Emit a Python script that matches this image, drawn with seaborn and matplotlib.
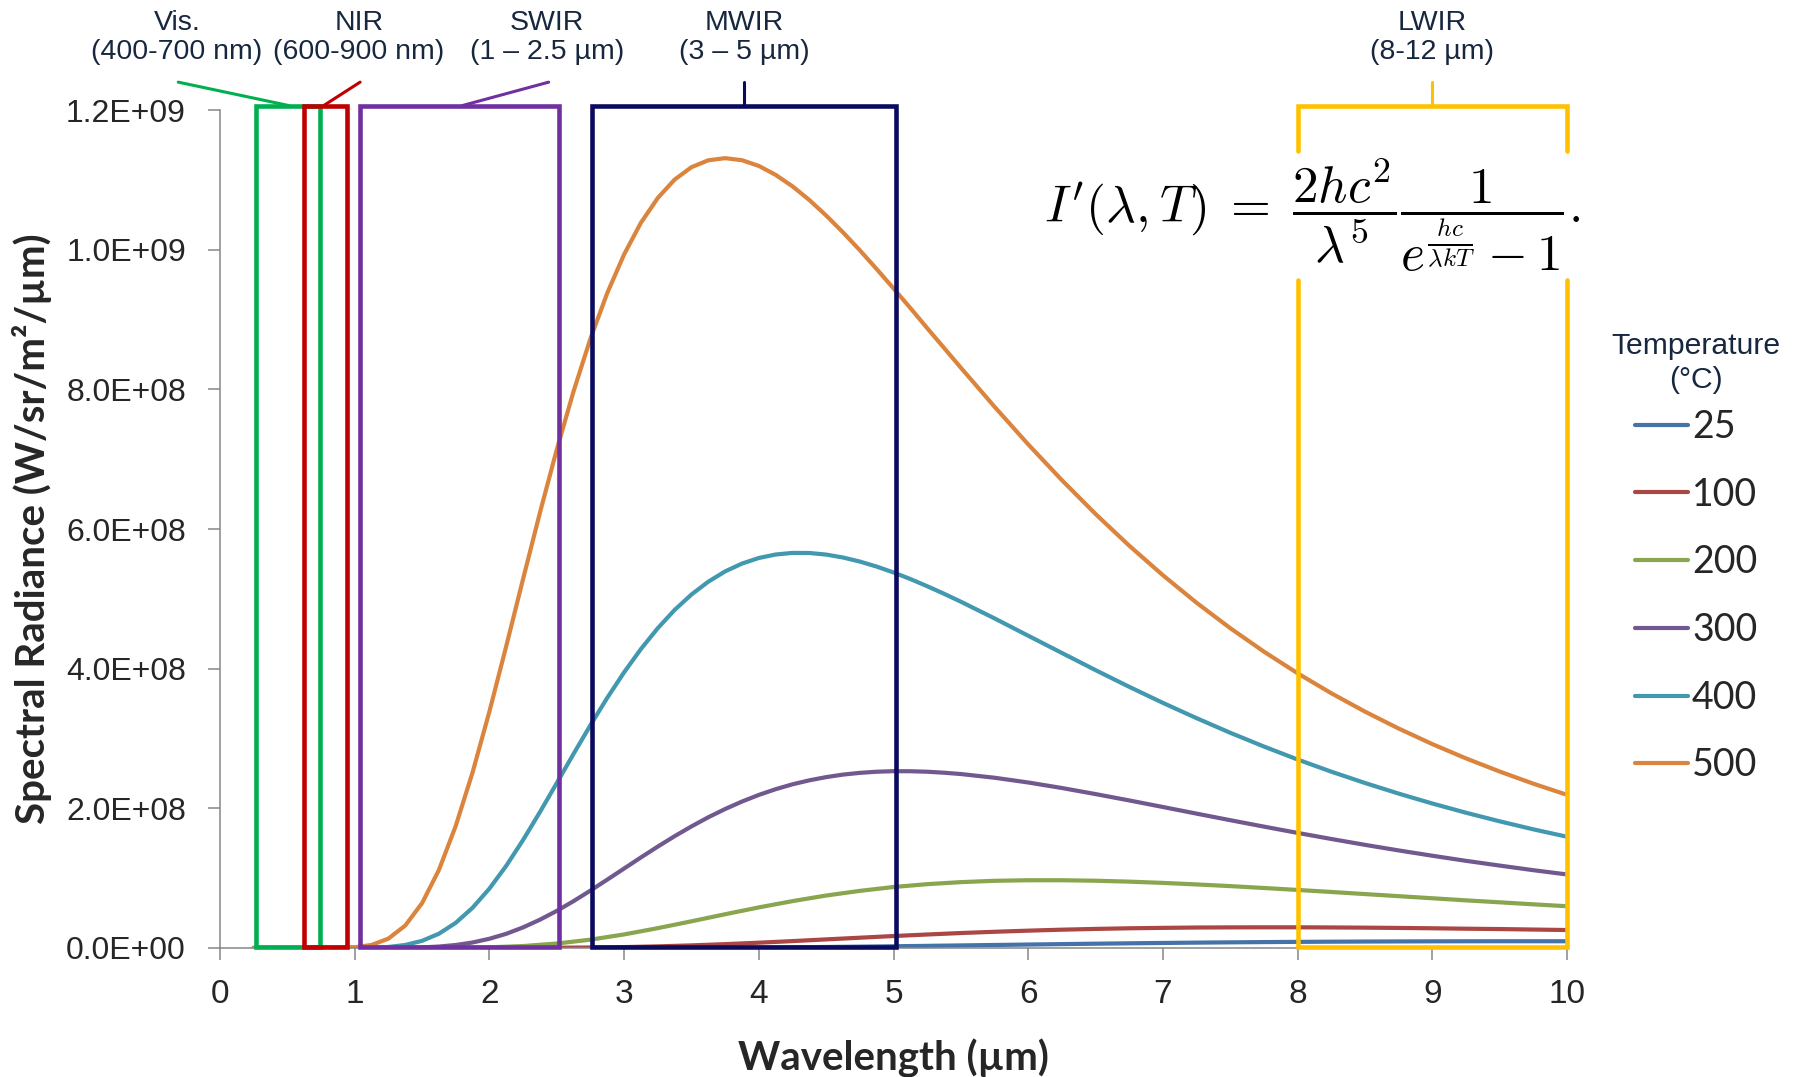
import numpy as np
import pandas as pd
import seaborn as sns
import matplotlib.pyplot as plt
from matplotlib.patches import Rectangle
from matplotlib.ticker import FuncFormatter

# wavelength (um) and spectral radiance (in 1e6 W/sr/m2/um)
wavelength = [0.25, 0.5, 0.75, 1.0, 1.25, 1.5, 1.75, 2.0, 2.25, 2.5,
              2.75, 3.0, 3.25, 3.5, 3.75, 4.0, 4.25, 4.5, 4.75, 5.0,
              5.25, 5.5, 5.75, 6.0, 6.25, 6.5, 6.75, 7.0, 7.25, 7.5,
              7.75, 8.0, 8.25, 8.5, 8.75, 9.0, 9.25, 9.5, 9.75, 10.0]
# denser readings for the three hot curves (steep rise and peak)
wavelength_fine = [0.25, 0.5, 0.75, 1.0,
                   1.125, 1.25, 1.375, 1.5, 1.625, 1.75, 1.875, 2.0,
                   2.125, 2.25, 2.375, 2.5, 2.625, 2.75, 2.875, 3.0,
                   3.125, 3.25, 3.375, 3.5, 3.625, 3.75, 3.875, 4.0,
                   4.125, 4.25, 4.375, 4.5, 4.625, 4.75, 4.875, 5.0,
                   5.125, 5.25, 5.375, 5.5,
                   5.75, 6.0, 6.25, 6.5, 6.75, 7.0, 7.25, 7.5, 7.75, 8.0,
                   8.25, 8.5, 8.75, 9.0, 9.25, 9.5, 9.75, 10.0]

rad_25 = [0, 0, 0, 0, 0, 0, 0, 0, 0, 0,
          0, 0.05, 0.12, 0.23, 0.41, 0.67, 1.01, 1.42, 1.91, 2.45,
          3.04, 3.66, 4.29, 4.92, 5.54, 6.13, 6.68, 7.19, 7.66, 8.07,
          8.43, 8.75, 9.01, 9.22, 9.39, 9.51, 9.59, 9.64, 9.65, 9.63]
rad_100 = [0, 0, 0, 0, 0, 0, 0, 0, 0.07, 0.24,
           0.62, 1.28, 2.31, 3.73, 5.50, 7.57, 9.86, 12.3, 14.7, 17.1,
           19.3, 21.4, 23.2, 24.8, 26.2, 27.3, 28.2, 28.8, 29.3, 29.5,
           29.6, 29.6, 29.4, 29.1, 28.7, 28.2, 27.6, 27.1, 26.4, 25.7]
rad_200 = [0, 0, 0, 0, 0, 0.02, 0.21, 0.93, 2.79, 6.36,
           11.9, 19.4, 28.4, 38.2, 48.3, 58.1, 67.1, 75.1, 81.8, 87.3,
           91.4, 94.3, 96.2, 97.0, 97.0, 96.3, 95.0, 93.2, 91.0, 88.6,
           85.9, 83.1, 80.2, 77.2, 74.2, 71.2, 68.2, 65.4, 62.5, 59.8]
rad_300 = [0, 0, 0, 0,
           0.01, 0.07, 0.29, 0.85, 2.05, 4.27, 7.87, 13.2,
           20.3, 29.5, 40.5, 53.1, 67.1, 82.2, 97.9, 113.8,
           129.7, 145.2, 160.1, 174.1, 187.2, 199.0, 209.7, 219.2,
           227.4, 234.4, 240.1, 244.7, 248.3, 250.8, 252.4, 253.2,
           253.1, 252.4, 251.0, 249.1,
           243.8, 237.0, 229.1, 220.4, 211.3, 201.9, 192.4, 183.0, 173.8, 164.8,
           156.1, 147.7, 139.7, 132.1, 124.8, 118.0, 111.4, 105.3]
rad_400 = [0, 0, 0, 0.06,
           0.37, 1.46, 4.30, 10.2, 20.4, 36.0, 57.6, 85.0,
           117.7, 154.7, 194.6, 236.2, 278.1, 319.1, 358.3, 394.8,
           428.2, 458.0, 484.1, 506.2, 524.6, 539.3, 550.5, 558.5,
           563.5, 565.8, 565.7, 563.4, 559.2, 553.4, 546.2, 537.8,
           528.4, 518.1, 507.3, 495.9,
           472.0, 447.2, 422.5, 397.9, 374.0, 351.0, 329.1, 308.2, 288.5, 269.9,
           252.5, 236.3, 221.1, 206.9, 193.7, 181.4, 169.9, 159.3]
rad_500 = [0, 0, 0.01, 0.99,
           4.3, 13.4, 32.1, 64.2, 111.7, 174.8, 251.4, 338.6,
           432.3, 528.5, 623.3, 713.8, 797.4, 872.7, 938.0, 993.3,
           1038.7, 1074.1, 1100.4, 1118.2, 1128.1, 1131.1, 1128.2, 1120.0,
           1107.2, 1090.8, 1071.2, 1049.0, 1024.9, 999.2, 972.3, 944.6,
           916.5, 887.7, 859.4, 831.0,
           775.1, 721.2, 670.0, 621.5, 576.1, 533.8, 494.4, 458.0, 424.4, 393.4,
           364.8, 338.5, 314.3, 292.0, 271.5, 252.7, 235.3, 219.3]

temps = ['25', '100', '200', '300', '400', '500']
curve_colors = ['#4572A7', '#AA4643', '#89A54E', '#71588F', '#4198AF', '#DB843D']

# spectral bands drawn as boxes
band_names = ['Vis.\n(400-700 nm)', 'NIR\n(600-900 nm)', 'SWIR\n(1 – 2.5 µm)',
              'MWIR\n(3 – 5 µm)', 'LWIR\n(8-12 µm)']
band_lo = [0.27, 0.62, 1.04, 2.76, 8.0]
band_hi = [0.74, 0.94, 2.52, 5.02, 10.0]
band_colors = ['#00B050', '#C00000', '#7030A0', '#0B0B5E', '#FFC000']
label_x = [-0.32, 1.03, 2.43, 3.89, 9.0]
lead_start = [-0.31, 1.04, 2.44, 3.89, 9.0]
lead_end = [0.51, 0.77, 1.80, 3.89, 9.0]
box_bottom, box_top, lead_top = 2e6, 1.2065e9, 1.240e9
lwir_gap = (9.56e8, 1.141e9)

yticks = [0, 2e8, 4e8, 6e8, 8e8, 1e9, 1.2e9]
xticks = list(range(0, 11))

sns.set_style('ticks')
plt.rcParams['font.family'] = ['Liberation Sans', 'DejaVu Sans']
plt.rcParams['mathtext.fontset'] = 'cm'

series = [(wavelength, rad_25), (wavelength, rad_100), (wavelength, rad_200),
          (wavelength_fine, rad_300), (wavelength_fine, rad_400), (wavelength_fine, rad_500)]
long = pd.concat([pd.DataFrame({'Wavelength': x, 'Radiance': y, 'Temperature': t})
                  for t, (x, y) in zip(temps, series)], ignore_index=True)
long['Radiance'] = long['Radiance'] * 1e6

fig = plt.figure(figsize=(17.96, 10.77), dpi=100)
ax = fig.add_axes([0.1225, 0.1198, 0.75, 0.778])

sns.lineplot(data=long, x='Wavelength', y='Radiance', hue='Temperature', hue_order=temps,
             palette=dict(zip(temps, curve_colors)), linewidth=3, legend=False, ax=ax)
curve_lines = ax.lines[:6]

# boxes for the bands (LWIR drawn separately, it has a gap for the formula)
for lo, hi, col in zip(band_lo[:4], band_hi[:4], band_colors[:4]):
    ax.add_patch(Rectangle((lo, box_bottom), hi - lo, box_top - box_bottom, fill=False,
                           ec=col, lw=3.3, clip_on=False, zorder=4, joinstyle='miter'))
lo, hi, col = band_lo[4], band_hi[4], band_colors[4]
ax.plot([lo, lo, hi, hi], [lwir_gap[1], box_top, box_top, lwir_gap[1]], color=col, lw=3.3,
        clip_on=False, zorder=4, solid_joinstyle='miter')
ax.plot([lo, lo, hi, hi], [lwir_gap[0], box_bottom, box_bottom, lwir_gap[0]], color=col, lw=3.3,
        clip_on=False, zorder=4, solid_joinstyle='miter')

for name, tx, x0, x1, col in zip(band_names, label_x, lead_start, lead_end, band_colors):
    ax.plot([x0, x1], [lead_top, box_top], color=col, lw=2.2, clip_on=False, zorder=4)
    ax.text(tx, 1.304e9, name, ha='center', va='center', fontsize=20.5, color='#17273F',
            linespacing=1.15, clip_on=False)

ax.text(8.11, 1.05e9,
        r"$I'(\lambda,T)\;=\;\dfrac{2hc^2}{\lambda^5}\dfrac{1}{e^{\frac{hc}{\lambda kT}}-1}.$",
        ha='center', va='center', fontsize=37, color='black')

ax.set_xlim(0, 10)
ax.set_ylim(0, 1.2e9)
ax.set_xticks(xticks)
ax.set_yticks(yticks)
ax.yaxis.set_major_formatter(FuncFormatter(lambda v, p: f'{v:.1E}'))
ax.tick_params(axis='both', direction='out', length=8.5, width=1.1, color='#868686')
ax.tick_params(axis='x', labelsize=24, pad=14)
ax.tick_params(axis='y', labelsize=23, pad=16)
sns.despine(ax=ax)
for s in ['left', 'bottom']:
    ax.spines[s].set_color('#868686')
    ax.spines[s].set_linewidth(1.1)

ax.set_xlabel('Wavelength (µm)', fontsize=29, fontweight='bold', family='Lato')
ax.set_ylabel('Spectral Radiance (W/sr/m²/µm)', fontsize=29, fontweight='bold', family='Lato')
ax.xaxis.set_label_coords(0.5, -0.132)
ax.xaxis.label.set_va('center')
ax.yaxis.set_label_coords(-0.1396, 0.5)
ax.yaxis.label.set_va('center')

leg = ax.legend(handles=curve_lines, labels=temps, title='Temperature\n(°C)',
                loc='upper left', bbox_to_anchor=(1593 / 1796, 1 - 313 / 1077),
                bbox_transform=fig.transFigure, frameon=False, borderpad=0,
                prop={'family': 'Lato', 'size': 27}, handlelength=1.41, handletextpad=0.1,
                labelspacing=0.845,
                title_fontproperties={'family': 'Liberation Sans', 'size': 21.7})
leg.get_title().set_color('#17273F')
leg.get_title().set_multialignment('center')
leg.get_title().set_linespacing(1.3)
leg._legend_box.sep = 10.5  # tighter gap between title and entries

fig.savefig('out.png', dpi=100)
